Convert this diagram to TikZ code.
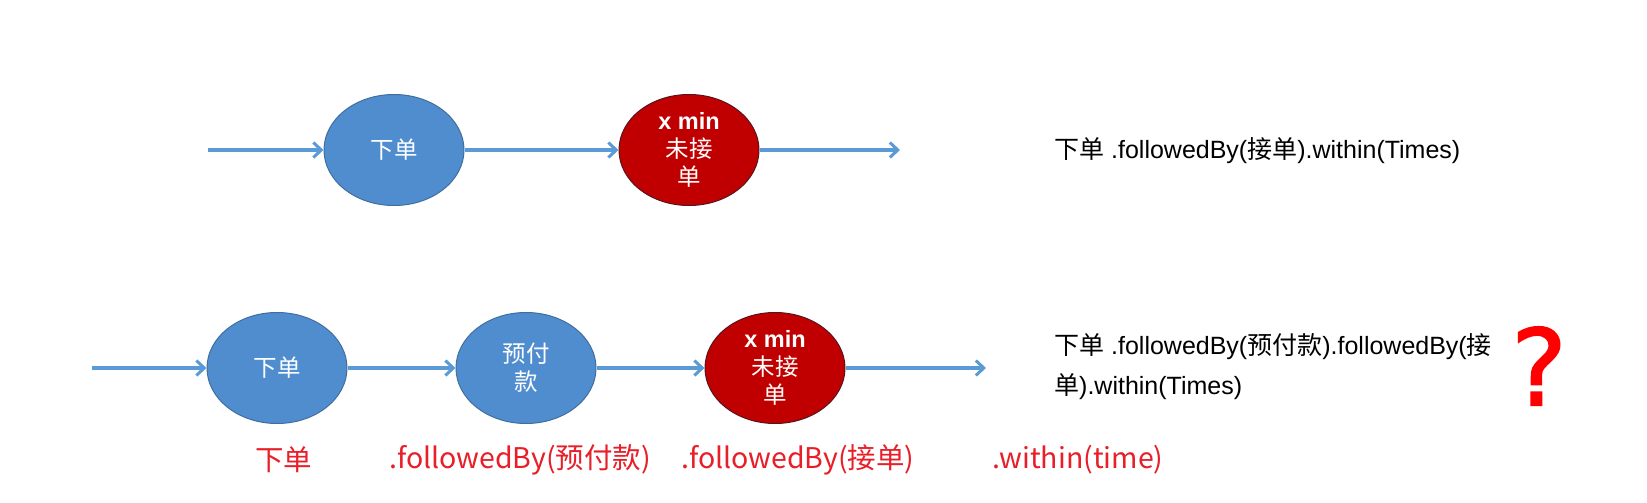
\documentclass[tikz,border=0pt]{standalone}
\usepackage{fontspec}
\setmainfont{Liberation Sans}
\newfontfamily\cjk{Noto Sans CJK SC}
\newfontfamily\qfont[FakeBold=1.4]{DejaVu Sans}
\usetikzlibrary{shapes.geometric,arrows.meta}
\definecolor{nodeblue}{RGB}{79,141,207}
\definecolor{nodeblueedge}{RGB}{65,110,160}
\definecolor{nodered}{RGB}{192,0,0}
\definecolor{noderededge}{RGB}{90,20,30}
\definecolor{arrowblue}{RGB}{91,155,213}
\definecolor{labelred}{RGB}{232,30,40}
\begin{document}
\begin{tikzpicture}[x=1pt,y=-1pt,
  bluenode/.style={ellipse,draw=nodeblueedge,line width=1pt,fill=nodeblue,minimum width=140pt,minimum height=111pt,inner sep=0pt,text=white,align=center,font=\cjk\fontsize{23.5}{28}\selectfont},
  rednode/.style={bluenode,fill=nodered,draw=noderededge},
  flow/.style={draw=arrowblue,line width=3.2pt,-{Straight Barb[length=8pt,width=15pt,line width=3pt]}},
  codetext/.style={anchor=west,text=black,align=left,font=\fontsize{25}{40}\selectfont,inner sep=0pt},
  redlabel/.style={text=labelred,font=\cjk\fontsize{28.5}{32}\selectfont,inner sep=0pt}
]
\useasboundingbox (0,0) rectangle (1647,503);
\fill[white] (0,0) rectangle (1647,503);
% top row
\coordinate (s1) at (208,150);
\node[bluenode] (a1) at (394,150) {下单};
\node[rednode] (r1) at (689,150) {\textbf{\fontspec{Liberation Sans}x min}\\未接\\单};
\coordinate (e1) at (900,150);
\draw[flow] (s1) -- (a1);
\draw[flow] (a1) -- (r1);
\draw[flow] (r1) -- (e1);
\node[codetext] (t1) at (1054,151) {{\cjk 下单} .followedBy({\cjk 接单}).within(Times)};
% bottom row
\coordinate (s2) at (92,368);
\node[bluenode] (a2) at (277,368) {下单};
\node[bluenode] (b2) at (526,368) {预付\\款};
\node[rednode] (r2) at (775,368) {\textbf{\fontspec{Liberation Sans}x min}\\未接\\单};
\coordinate (e2) at (986,368);
\draw[flow] (s2) -- (a2);
\draw[flow] (a2) -- (b2);
\draw[flow] (b2) -- (r2);
\draw[flow] (r2) -- (e2);
\node[codetext] (t2) at (1054,367) {{\cjk 下单} .followedBy({\cjk 预付款}).followedBy({\cjk 接}\\{\cjk 单}).within(Times)};
\node[text=red,font=\qfont\fontsize{106}{106}\selectfont,inner sep=0pt] (q) at (1539,366) {?};
% bottom labels
\node[redlabel,anchor=west] (l1) at (255,460) {下单};
\node[redlabel,anchor=west] (l2) at (389,460) {.followedBy(预付款)};
\node[redlabel,anchor=west] (l3) at (681,460) {.followedBy(接单)};
\node[redlabel,anchor=west] (l4) at (992,460) {.within(time)};
\end{tikzpicture}
\end{document}
